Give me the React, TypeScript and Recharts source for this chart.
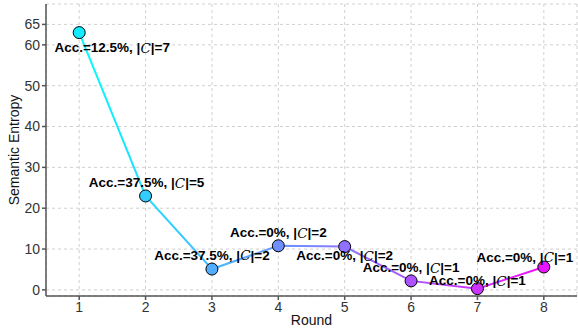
import React from "react";
import {
  LineChart,
  Line,
  XAxis,
  YAxis,
  CartesianGrid,
  LabelList,
} from "recharts";

const rounds = [1, 2, 3, 4, 5, 6, 7, 8];
const entropy = [63, 23, 5.1, 10.8, 10.6, 2.2, 0.3, 5.6];
const accuracy = ["12.5%", "37.5%", "37.5%", "0%", "0%", "0%", "0%", "0%"];
const clusters = [7, 5, 2, 2, 2, 1, 1, 1];
const yTicks = [0, 10, 20, 30, 40, 50, 60, 65];

// label offsets relative to each point (dx, dy)
const labelOffsets = [
  [33, 15],
  [1, -13],
  [0, -14],
  [0, -13],
  [0, 9],
  [0, -13],
  [0, -8],
  [-19, -10],
];

const data = rounds.map((r, i) => ({
  round: r,
  entropy: entropy[i],
  acc: accuracy[i],
  c: clusters[i],
}));

// cool colormap: cyan -> magenta
const cool = (t: number) => {
  const r = Math.round(255 * t);
  const g = Math.round(255 * (1 - t));
  return `rgb(${r},${g},255)`;
};

const Dot = (props: any) => {
  const { cx, cy, index } = props;
  return (
    <circle
      key={index}
      cx={cx}
      cy={cy}
      r={6}
      fill={cool(0.08 + (index / 7) * 0.84)}
      stroke="#000"
      strokeWidth={1}
    />
  );
};

const PointLabel = (props: any) => {
  const { x, y, index } = props;
  const d = data[index];
  const [dx, dy] = labelOffsets[index];
  return (
    <text
      x={x + dx}
      y={y + dy}
      textAnchor="middle"
      dominantBaseline="central"
      fontFamily="Liberation Sans, Arial, sans-serif"
      fontWeight="bold"
      fontSize={13.5}
      fill="#000"
    >
      {`Acc.=${d.acc}, ${index === 0 ? " " : ""}|`}
      <tspan fontFamily="DejaVu Serif, serif" fontStyle="italic" fontWeight="normal">
        C
      </tspan>
      {`|=${d.c}`}
    </text>
  );
};

const axisFont = { fill: "#333", fontSize: 14, fontFamily: "Liberation Sans, Arial" };

export default function App() {
  return (
    <div style={{ position: "absolute", left: 0, top: 0, background: "#fff" }}>
      <LineChart
        width={578}
        height={329}
        data={data}
        margin={{ top: 4, right: 1, bottom: 0, left: 0 }}
      >
        <defs>
          <linearGradient id="coolGrad" x1="0" y1="0" x2="1" y2="0">
            <stop offset="0%" stopColor={cool(0)} />
            <stop offset="100%" stopColor={cool(0.95)} />
          </linearGradient>
        </defs>
        <CartesianGrid stroke="#d0d0d0" strokeDasharray="3 3" />
        <XAxis
          dataKey="round"
          type="number"
          domain={[0.5, 8.5]}
          ticks={rounds}
          interval={0}
          height={33}
          stroke="#555"
          strokeWidth={1.5}
          tick={axisFont}
          tickSize={4}
          label={{
            value: "Round",
            position: "insideBottom",
            offset: 4,
            fill: "#111",
            fontSize: 14,
            fontFamily: "Liberation Sans, Arial",
          }}
        />
        <XAxis
          xAxisId="top"
          dataKey="round"
          type="number"
          domain={[0.5, 8.5]}
          orientation="top"
          tick={false}
          tickLine={false}
          height={0}
          stroke="#555"
          strokeWidth={1.5}
        />
        <YAxis
          type="number"
          domain={[-1.5, 70]}
          ticks={yTicks}
          interval={0}
          width={46}
          stroke="#555"
          strokeWidth={1.5}
          tickSize={4}
          tick={axisFont}
          label={{
            value: "Semantic Entropy",
            angle: -90,
            position: "insideLeft",
            offset: 14,
            style: { textAnchor: "middle" },
            fill: "#111",
            fontSize: 14,
            fontFamily: "Liberation Sans, Arial",
          }}
        />
        <YAxis
          yAxisId="right"
          orientation="right"
          type="number"
          domain={[-1.5, 70]}
          tick={false}
          tickLine={false}
          width={0}
          stroke="#555"
          strokeWidth={1.5}
        />
        <Line
          dataKey="entropy"
          stroke="url(#coolGrad)"
          strokeWidth={2}
          dot={<Dot />}
          activeDot={false}
          isAnimationActive={false}
        >
          <LabelList dataKey="entropy" content={<PointLabel />} />
        </Line>
      </LineChart>
    </div>
  );
}
